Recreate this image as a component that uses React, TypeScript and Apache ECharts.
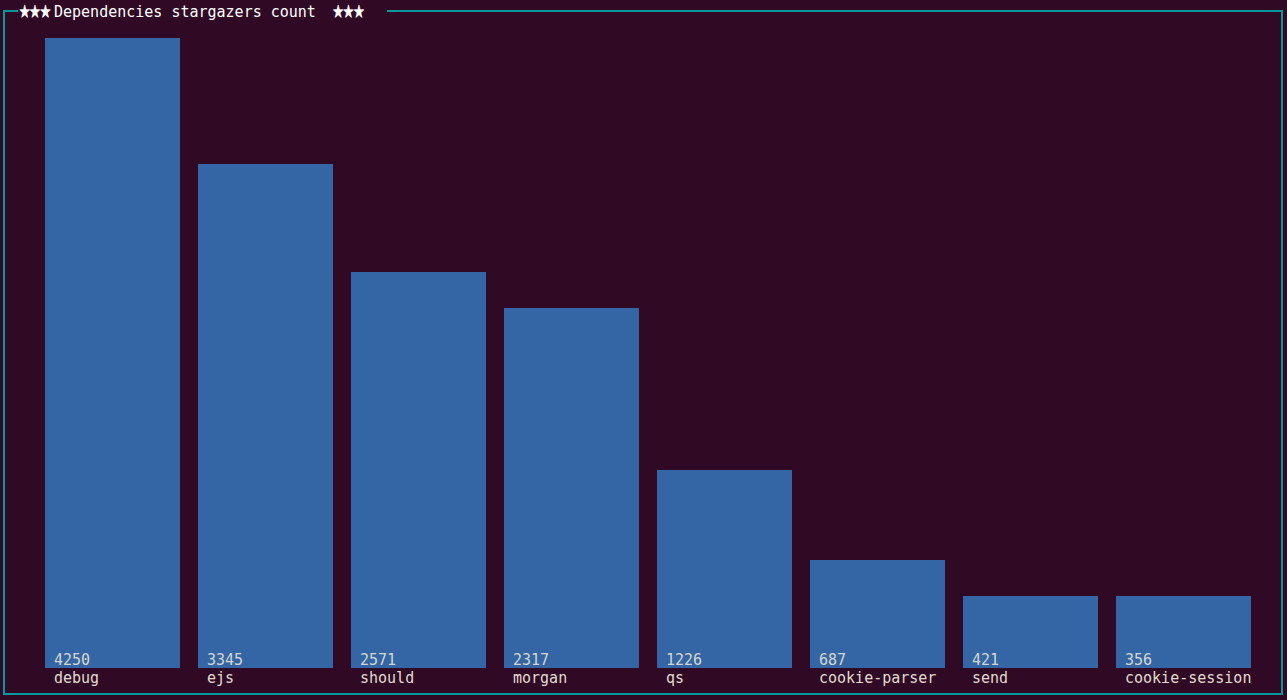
import React, { useEffect, useRef } from "react";
import * as echarts from "echarts";

const categories = ["debug", "ejs", "should", "morgan", "qs", "cookie-parser", "send", "cookie-session"];
const stargazers = [4250, 3345, 2571, 2317, 1226, 687, 421, 356];
// bar heights as drawn in the terminal chart (rows)
const barRows = [35, 28, 22, 20, 11, 6, 4, 4];
const titleText = "Dependencies stargazers count";
const stars = "★★★";

const FONT = '"DejaVu Sans Mono", "Liberation Mono", monospace';
const STAR_FONT = '"Noto Sans CJK JP", "DejaVu Sans", sans-serif';
const BORDER = "#06989a";

export default function App() {
  const ref = useRef<HTMLDivElement>(null);
  useEffect(() => {
    if (!ref.current) return;
    const chart = echarts.init(ref.current, undefined, { renderer: "svg" });
    const starGraphics = [19.5, 333].map((x) => ({
      type: "text",
      x,
      y: 10.5,
      scaleX: 0.74,
      style: {
        text: stars,
        fill: "#ffffff",
        stroke: "#ffffff",
        lineWidth: 0.6,
        font: `14px ${STAR_FONT}`,
        align: "left",
        verticalAlign: "middle",
      },
    }));
    chart.setOption({
      animation: false,
      backgroundColor: "#300a24",
      grid: { left: 36, right: 27, top: 38, bottom: 32 },
      xAxis: {
        type: "category",
        data: categories,
        axisLine: { show: false },
        axisTick: { show: false },
        axisLabel: { show: false },
        splitLine: { show: false },
      },
      yAxis: {
        type: "value",
        min: 0,
        max: 35,
        show: false,
        splitLine: { show: false },
      },
      series: [
        {
          type: "bar",
          data: barRows,
          barWidth: 135,
          itemStyle: { color: "#3465a4" },
          label: {
            show: true,
            position: "insideBottomLeft",
            distance: 0,
            offset: [9, 19],
            fontFamily: FONT,
            fontSize: 15,
            lineHeight: 18,
            formatter: (p: any) => `{v|${stargazers[p.dataIndex]}}\n{c|${p.name}}`,
            rich: {
              v: { color: "#d3d7cf", fontFamily: FONT, fontSize: 15, lineHeight: 18 },
              c: { color: "#e0dcd0", fontFamily: FONT, fontSize: 15, lineHeight: 18 },
            },
          },
        },
      ],
      graphic: [
        { type: "line", shape: { x1: 4, y1: 11, x2: 4, y2: 694 }, style: { stroke: BORDER, lineWidth: 2 } },
        { type: "line", shape: { x1: 3, y1: 694, x2: 1283, y2: 694 }, style: { stroke: BORDER, lineWidth: 2 } },
        { type: "line", shape: { x1: 1282, y1: 11, x2: 1282, y2: 695 }, style: { stroke: BORDER, lineWidth: 2 } },
        { type: "line", shape: { x1: 3, y1: 11, x2: 18, y2: 11 }, style: { stroke: BORDER, lineWidth: 2 } },
        { type: "line", shape: { x1: 387, y1: 11, x2: 1283, y2: 11 }, style: { stroke: BORDER, lineWidth: 2 } },
        {
          type: "text",
          x: 54,
          y: 12,
          style: {
            text: titleText,
            fill: "#ffffff",
            font: `15px ${FONT}`,
            verticalAlign: "middle",
            align: "left",
          },
        },
        ...starGraphics,
      ],
    });
    return () => chart.dispose();
  }, []);
  return (
    <div
      ref={ref}
      style={{ position: "fixed", left: 0, top: 0, width: 1287, height: 700 }}
    />
  );
}
